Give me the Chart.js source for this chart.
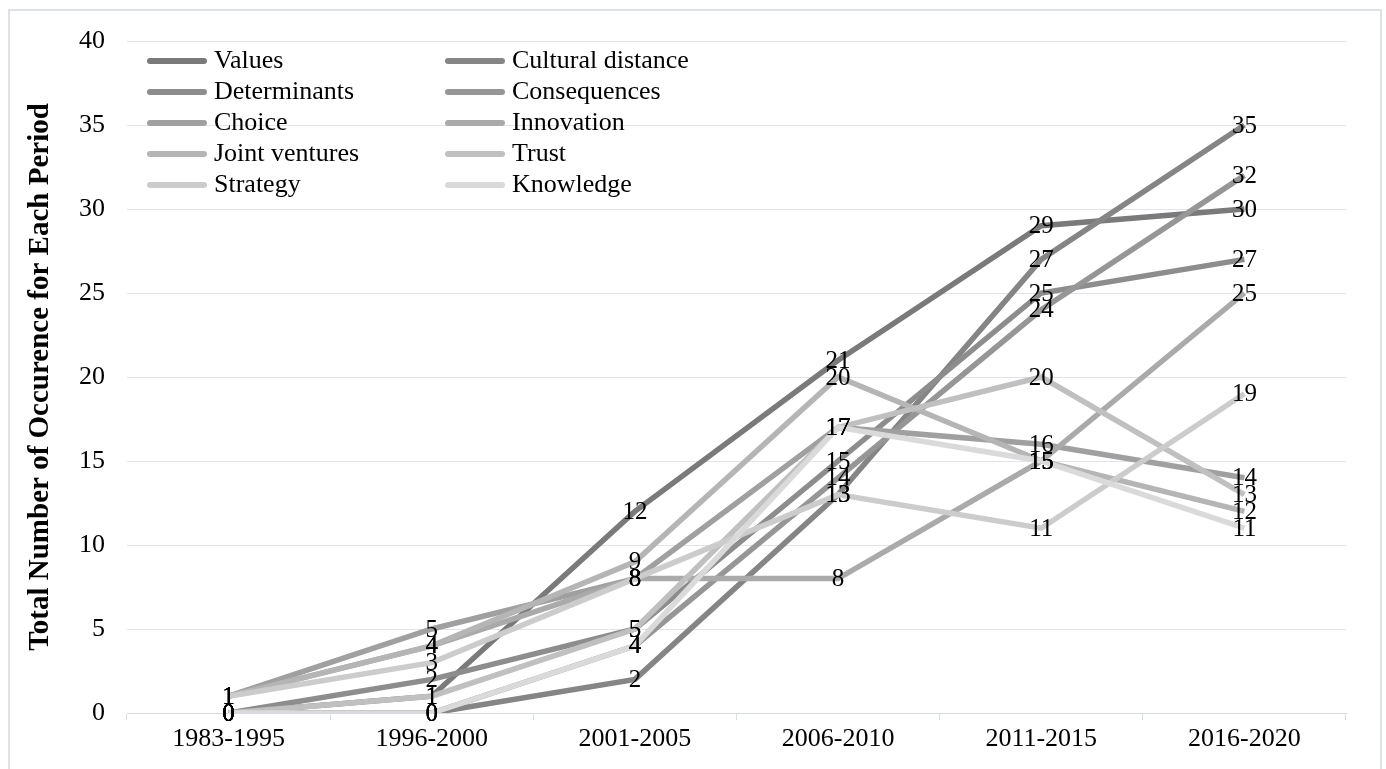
<!DOCTYPE html>
<html>
<head>
<meta charset="utf-8">
<script src="https://cdn.jsdelivr.net/npm/chart.js@4.4.1/dist/chart.umd.min.js"></script>
<style>
  html, body { margin: 0; padding: 0; background: #fff; overflow: hidden; }
  #frame { position: absolute; left: 8px; top: 9px; width: 1370px; height: 800px; border: 2px solid #dee2e8; }
  #chart { position: absolute; left: 0; top: 0; }
</style>
</head>
<body>
<div id="frame"></div>
<canvas id="chart" width="1386" height="769"></canvas>
<script>
const periods = ['1983-1995', '1996-2000', '2001-2005', '2006-2010', '2011-2015', '2016-2020'];
const yTicks = [0, 5, 10, 15, 20, 25, 30, 35, 40];

const values = [0, 1, 12, 21, 29, 30];
const culturalDistance = [0, 0, 2, 13, 27, 35];
const determinants = [0, 2, 5, 15, 25, 27];
const consequences = [0, 0, 4, 14, 24, 32];
const choice = [1, 5, 8, 17, 16, 14];
const innovation = [1, 4, 8, 8, 15, 25];
const jointVentures = [1, 4, 9, 20, 15, 12];
const trust = [0, 1, 5, 17, 20, 13];
const strategy = [1, 3, 8, 13, 11, 19];
const knowledge = [0, 0, 4, 17, 15, 11];

const seriesNames = ['Values', 'Cultural distance', 'Determinants', 'Consequences', 'Choice',
  'Innovation', 'Joint ventures', 'Trust', 'Strategy', 'Knowledge'];
const seriesData = [values, culturalDistance, determinants, consequences, choice,
  innovation, jointVentures, trust, strategy, knowledge];
const grays = ['#7a7a7a', '#858585', '#8d8d8d', '#969696', '#a0a0a0',
  '#aaaaaa', '#b5b5b5', '#c0c0c0', '#cccccc', '#dadada'];

const serif = "'Liberation Serif', 'Times New Roman', serif";

// value labels centred on each point
const pointLabels = {
  id: 'pointLabels',
  afterDatasetsDraw(chart) {
    const ctx = chart.ctx;
    ctx.save();
    ctx.font = '25px ' + serif;
    ctx.fillStyle = '#000';
    ctx.textAlign = 'center';
    ctx.textBaseline = 'middle';
    chart.data.datasets.forEach((ds, i) => {
      chart.getDatasetMeta(i).data.forEach((pt, j) => {
        ctx.fillText(String(ds.data[j]), pt.x, pt.y + 1);
      });
    });
    ctx.restore();
  }
};

// two-column legend inside the plot, row by row
const gridLegend = {
  id: 'gridLegend',
  afterDraw(chart) {
    const ctx = chart.ctx;
    ctx.save();
    ctx.font = '26px ' + serif;
    ctx.textBaseline = 'middle';
    ctx.lineCap = 'round';
    ctx.lineWidth = 6;
    chart.data.datasets.forEach((ds, i) => {
      const col = i % 2, row = Math.floor(i / 2);
      const x = 150 + col * 298;
      const y = 61 + row * 31;
      ctx.strokeStyle = ds.borderColor;
      ctx.beginPath();
      ctx.moveTo(x, y);
      ctx.lineTo(x + 54, y);
      ctx.stroke();
      ctx.fillStyle = '#000';
      ctx.fillText(ds.label, x + 64, y);
    });
    ctx.restore();
  }
};

new Chart(document.getElementById('chart').getContext('2d'), {
  type: 'line',
  data: {
    labels: periods,
    datasets: seriesNames.map((name, i) => ({
      label: name,
      data: seriesData[i],
      borderColor: grays[i],
      backgroundColor: grays[i],
      borderWidth: 5.5,
      pointRadius: 0,
      tension: 0,
      fill: false,
      order: 9 - i
    }))
  },
  options: {
    responsive: false,
    devicePixelRatio: 1,
    animation: false,
    layout: { padding: { left: 0, top: 41, right: 40, bottom: 0 } },
    plugins: { legend: { display: false }, tooltip: { enabled: false } },
    scales: {
      x: {
        offset: true,
        afterFit: s => { s.height = 56; },
        grid: { offset: true, drawOnChartArea: false, drawTicks: true, tickLength: 7, color: '#d9dce2' },
        border: { display: true, color: '#d9dce2' },
        ticks: { color: '#000', font: { family: serif, size: 26 }, padding: 4, maxRotation: 0 }
      },
      y: {
        min: 0,
        max: 40,
        afterFit: s => { s.width = 127; },
        afterBuildTicks: s => { s.ticks = yTicks.map(v => ({ value: v })); },
        grid: { color: '#e1e5eb', drawTicks: false },
        border: { display: false },
        ticks: { color: '#000', font: { family: serif, size: 26 }, padding: 22 },
        title: {
          display: true,
          text: 'Total Number of Occurence for Each Period',
          color: '#000',
          font: { family: serif, size: 29, weight: 'bold' },
          padding: { top: 23, bottom: 0 }
        }
      }
    }
  },
  plugins: [pointLabels, gridLegend]
});
</script>
</body>
</html>
